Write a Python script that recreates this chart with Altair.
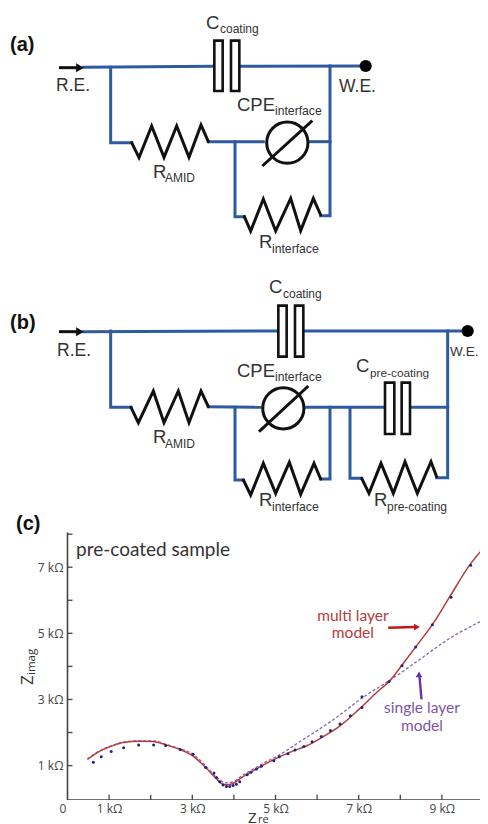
import altair as alt
import pandas as pd

# ---- panel (c): impedance data, kOhm ----
multi_x = [0.48,0.66,0.86,1.06,1.34,1.74,2.06,2.38,2.70,3.02,3.34,3.58,3.70,3.82,3.98,4.22,4.46,4.78,5.02,5.34,5.75,6.15,6.55,7.03,7.43,7.75,8.07,8.39,8.79,9.19,9.67,9.96]
multi_y = [1.19,1.35,1.49,1.59,1.70,1.74,1.73,1.62,1.49,1.29,0.92,0.60,0.46,0.42,0.46,0.67,0.84,1.07,1.22,1.40,1.60,1.88,2.20,2.73,3.21,3.57,4.09,4.62,5.30,6.11,7.07,7.52]
single_x = [0.48,0.66,0.86,1.06,1.34,1.74,2.06,2.38,2.70,3.02,3.34,3.58,3.82,3.98,4.22,4.46,4.78,5.02,5.58,6.38,7.18,7.75,8.39,9.19,9.96]
single_y = [1.20,1.36,1.50,1.60,1.71,1.75,1.75,1.64,1.51,1.34,0.97,0.65,0.48,0.51,0.72,0.89,1.12,1.27,1.72,2.38,3.13,3.58,4.14,4.85,5.38]
meas_x = [0.62,0.81,1.05,1.35,1.71,2.07,2.36,2.71,3.02,3.32,3.52,3.58,3.66,3.74,3.82,3.90,3.98,4.06,4.14,4.32,4.41,4.54,4.66,4.96,5.09,5.30,5.47,5.68,5.88,6.10,6.32,6.55,6.80,7.08,7.08,7.73,8.04,8.37,8.77,9.22,9.69]
meas_y = [1.10,1.27,1.43,1.54,1.62,1.62,1.61,1.49,1.34,0.94,0.78,0.64,0.51,0.41,0.37,0.37,0.40,0.44,0.51,0.72,0.80,0.90,0.98,1.15,1.27,1.36,1.47,1.58,1.72,1.88,2.06,2.26,2.51,2.76,3.08,3.54,4.02,4.59,5.26,6.09,7.06]
x_labels = [1,3,5,7,9]
y_labels = [1,3,5,7]
x_minor = [1,2,3,4,5,6,7,8,9,10]
y_minor = [1,2,3,4,5,6,7,8]

# ---- panels (a), (b): schematic wires, in drawing units ----
z = lambda pts, oy=0: [(p[0]/3, oy + p[1]/3) for p in pts]
a_wires = [
    z([(250,202),(640,199)]), z([(720,199),(1080,198)]),
    z([(332,202),(332,428),(395,428)]), z([(625,425),(790,425)]),
    z([(705,425),(705,650),(733,650)]), z([(962,647),(990,647),(990,198)]),
    z([(930,425),(990,425)]),
]
a_res = [
    z([(395,428),(417,473),(455,378),(492,472),(530,378),(567,472),(603,375),(625,425)]),
    z([(733,650),(752,693),(790,597),(827,693),(872,595),(902,692),(940,595),(962,645)]),
]
a_caps = [(643,122,668,273),(693,122,718,273)]
a_cpe = (862,428)
a_slash = z([(787,498),(937,362)])
a_arrow = z([(177,203),(240,203)])

b_wires = [
    z([(250,215),(835,213)],260), z([(910,213),(1395,213)],260),
    z([(332,213),(332,442),(393,442)],260), z([(625,440),(780,442)],260),
    z([(920,442),(1155,442)],260), z([(1230,442),(1343,442)],260),
    z([(1343,213),(1343,653),(1310,653)],260),
    z([(1050,445),(1050,655),(1085,655)],260),
    z([(705,442),(705,660),(730,660)],260),
    z([(962,657),(990,657),(990,442)],260),
]
b_res = [
    z([(393,442),(415,488),(460,393),(492,488),(535,393),(567,488),(603,393),(625,440)],260),
    z([(730,660),(752,705),(790,610),(827,700),(868,607),(902,703),(942,610),(962,657)],260),
    z([(1085,655),(1107,700),(1143,610),(1180,700),(1215,605),(1252,700),(1293,605),(1310,650)],260),
]
b_caps = [(835,137,860,290),(885,137,910,290),(1155,368,1183,522),(1205,368,1230,522)]
b_cpe = (850,445)
b_slash = z([(777,515),(925,378)],260)
b_arrow = z([(177,215),(240,215)],260)

a_text = [("(a)",10,51,20,"bold"),("R.E.",56,91,17.5,"normal"),("C",206,29,18.5,"normal"),("coating",220,33,12,"normal"),
          ("W.E.",339,92,17.5,"normal"),("CPE",237,111,18.5,"normal"),("interface",275,115,12.2,"normal"),
          ("R",153,178,18.5,"normal"),("AMID",165,182,12,"normal"),("R",259,248,18.5,"normal"),("interface",272,253,12.2,"normal")]
b_text = [("(b)",10,329,20,"bold"),("R.E.",57,356,17.5,"normal"),("C",269,293,18.5,"normal"),("coating",283,298,12,"normal"),
          ("W.E.",450,356,13.5,"normal"),("CPE",237,377,18.5,"normal"),("interface",275,381,12.2,"normal"),
          ("C",356,372,18.5,"normal"),("pre-coating",370,377,11.8,"normal"),("R",153,443,18.5,"normal"),("AMID",165,448,12,"normal"),
          ("R",259,506,18.5,"normal"),("interface",272,511,12.2,"normal"),("R",374,506,18.5,"normal"),("pre-coating",387,511,12,"normal")]

WIRE = "#2f5a9e"
BLACK = "#111111"
TXT = "#333333"
RED = "#b83a3c"
PURPLE = "#7d55a8"
NAVY = "#1c2480"
FONT = "Liberation Sans"


def lines(paths, color, width):
    rows = [{"s": s, "i": i, "x": p[0], "y": p[1]} for s, path in enumerate(paths) for i, p in enumerate(path)]
    return pd.DataFrame(rows), color, width


def schematic(wires, res, caps, cpe, slash, arrow, texts, ytop, ybot):
    xs = alt.Scale(domain=[8, 480], nice=False, zero=False)
    ys = alt.Scale(domain=[ybot, ytop], nice=False, zero=False)
    X = lambda f="x": alt.X(f, type="quantitative", scale=xs, axis=None)
    Y = lambda f="y": alt.Y(f, type="quantitative", scale=ys, axis=None)
    oy = 260 if ytop >= 260 else 0
    layers = []

    def path_layer(paths, color, width, cap="square"):
        d, c, w = lines(paths, color, width)
        return alt.Chart(d).mark_line(color=c, strokeWidth=w, strokeCap=cap, strokeJoin="miter").encode(
            x=X(), y=Y(), detail="s:N", order="i:Q")

    layers.append(path_layer(wires, WIRE, 3))
    layers.append(path_layer(res, BLACK, 3, "round"))
    rects = pd.DataFrame([{"x": c[0]/3, "x2": c[2]/3, "y": oy + c[1]/3, "y2": oy + c[3]/3} for c in caps])
    layers.append(alt.Chart(rects).mark_rect(fill="white", stroke=BLACK, strokeWidth=2.6).encode(
        x=X(), x2="x2:Q", y=Y(), y2="y2:Q"))
    circ = pd.DataFrame([{"x": cpe[0]/3, "y": oy + cpe[1]/3}])
    layers.append(alt.Chart(circ).mark_point(shape="circle", size=1700, filled=False, stroke=BLACK, strokeWidth=3, opacity=1).encode(
        x=X(), y=Y()))
    layers.append(path_layer([slash], BLACK, 3, "butt"))
    layers.append(path_layer([arrow], BLACK, 3, "butt"))
    head = pd.DataFrame([{"x": arrow[1][0], "y": arrow[1][1]}])
    layers.append(alt.Chart(head).mark_point(shape="triangle-right", size=80, filled=True, color=BLACK, opacity=1).encode(x=X(), y=Y()))
    dot = pd.DataFrame([{"x": (1097 if oy == 0 else 1403)/3, "y": oy + (198 if oy == 0 else 213)/3}])
    layers.append(alt.Chart(dot).mark_point(shape="circle", size=150, filled=True, color="#000000", opacity=1).encode(x=X(), y=Y()))
    for t, x, y, size, weight in texts:
        d = pd.DataFrame([{"t": t, "x": x, "y": y}])
        layers.append(alt.Chart(d).mark_text(align="left", baseline="alphabetic", font=FONT, fontSize=size,
                                             fontWeight=weight, color=BLACK if weight == "bold" else TXT).encode(
            x=X(), y=Y(), text="t:N"))
    return alt.layer(*layers).properties(width=472, height=ybot - ytop)


panel_a = schematic(a_wires, a_res, a_caps, a_cpe, a_slash, a_arrow, a_text, 8, 260)
panel_b = schematic(b_wires, b_res, b_caps, b_cpe, b_slash, b_arrow, b_text, 260, 510)

# ---- panel (c) ----
x_scale = alt.Scale(domain=[-1.4303, 9.916], nice=False, zero=False)
y_scale = alt.Scale(domain=[-0.04, 8.73], nice=False, zero=False)
AX = "#444444"
base_x = alt.Axis(values=x_labels, labelExpr="datum.value + ' kΩ'", grid=False, domain=False, ticks=False,
                  title=None, labelFont="Open Sans", labelFontSize=12, labelColor=AX, labelPadding=3, labelOverlap=False)
base_y = alt.Axis(values=y_labels, labelExpr="datum.value + ' kΩ'", grid=False, domain=False, ticks=False,
                  title=None, labelFont="Open Sans", labelFontSize=12, labelColor=AX, labelPadding=4.5,
                  offset=-59.5, labelOverlap=False)
CX = lambda f="x": alt.X(f, type="quantitative", scale=x_scale, axis=base_x)
CY = lambda f="y": alt.Y(f, type="quantitative", scale=y_scale, axis=base_y)

frame = pd.DataFrame({"x": [0, 0, 10.03], "y": [8.05, -0.04, -0.04], "i": [0, 1, 2]})
c_layers = [
    alt.Chart(frame).mark_line(color=AX, strokeWidth=1.6, clip=True).encode(x=CX(), y=CY(), order="i:Q")
]
xt = pd.DataFrame({"x": x_minor, "y": [-0.04]*len(x_minor), "y2": [0.12]*len(x_minor)})
c_layers.append(alt.Chart(xt).mark_rule(color=AX, strokeWidth=1.3, clip=True).encode(x=CX(), y=CY(), y2="y2:Q"))
yt = pd.DataFrame({"x": [0]*len(y_minor), "x2": [0.12]*len(y_minor), "y": y_minor})
c_layers.append(alt.Chart(yt).mark_rule(color=AX, strokeWidth=1.3).encode(x=CX(), x2="x2:Q", y=CY()))

def curve(xv, yv, **kw):
    d = pd.DataFrame({"x": xv, "y": yv, "i": range(len(xv))})
    return alt.Chart(d).mark_line(clip=True, **kw).encode(x=CX(), y=CY(), order="i:Q")

c_layers.append(curve(single_x, single_y, color=PURPLE, strokeWidth=1.3, strokeDash=[3, 2], interpolate="monotone", opacity=0.9))
c_layers.append(curve(multi_x, multi_y, color=RED, strokeWidth=1.5, interpolate="monotone"))
c_layers.append(alt.Chart(pd.DataFrame({"x": meas_x, "y": meas_y})).mark_point(shape="circle", size=9, filled=True, color=NAVY, opacity=1).encode(
    x=CX(), y=CY()))

# annotation arrows
c_layers.append(curve([7.71, 8.36], [5.17, 5.19], color="#c01818", strokeWidth=2.4))
c_layers.append(alt.Chart(pd.DataFrame({"x": [8.40], "y": [5.19]})).mark_point(shape="triangle-right", size=45, filled=True, color="#c01818", opacity=1).encode(
    x=CX(), y=CY()))
c_layers.append(curve([8.51, 8.46], [3.0, 3.72], color="#6a35a5", strokeWidth=2.4))
c_layers.append(alt.Chart(pd.DataFrame({"x": [8.45], "y": [3.76]})).mark_point(shape="triangle-up", size=45, filled=True, color="#6a35a5", opacity=1).encode(
    x=CX(), y=CY()))

c_text = [
    ("(c)", -1.238, 8.12, 20, "left", FONT, "bold", BLACK, 0),
    ("pre-coated sample", 0.204, 7.34, 19, "left", "Lato", "normal", TXT, 0),
    ("multi layer", 6.86, 5.37, 15.5, "center", "Lato", "normal", RED, 0),
    ("model", 6.86, 4.86, 15.5, "center", "Lato", "normal", RED, 0),
    ("single layer", 8.52, 2.59, 15.5, "center", "Lato", "normal", PURPLE, 0),
    ("model", 8.52, 2.05, 15.5, "center", "Lato", "normal", PURPLE, 0),
    ("0", -0.108, -0.43, 12, "center", "Open Sans", "normal", AX, 0),
    ("Z", 4.34, -0.735, 15, "left", "Open Sans", "normal", TXT, 0),
    ("re", 4.58, -0.75, 11, "left", "Open Sans", "normal", TXT, 0),
    ("Z", -0.83, 3.44, 17, "left", "Open Sans", "normal", TXT, 270),
    ("imag", -0.78, 3.74, 11.5, "left", "Open Sans", "normal", TXT, 270),
]
for t, x, y, size, align, font, weight, color, ang in c_text:
    d = pd.DataFrame([{"t": t, "x": x, "y": y}])
    c_layers.append(alt.Chart(d).mark_text(align=align, baseline="alphabetic", font=font, fontSize=size,
                                           fontWeight=weight, color=color, angle=ang).encode(
        x=CX(), y=CY(), text="t:N"))

panel_c = alt.layer(*c_layers).properties(width=472, height=290)

chart = alt.vconcat(panel_a, panel_b, panel_c, spacing=0, bounds="flush", padding=0, background="white").configure_view(stroke=None)
chart.save("out.html", embed_options={"renderer": "svg", "actions": False})
